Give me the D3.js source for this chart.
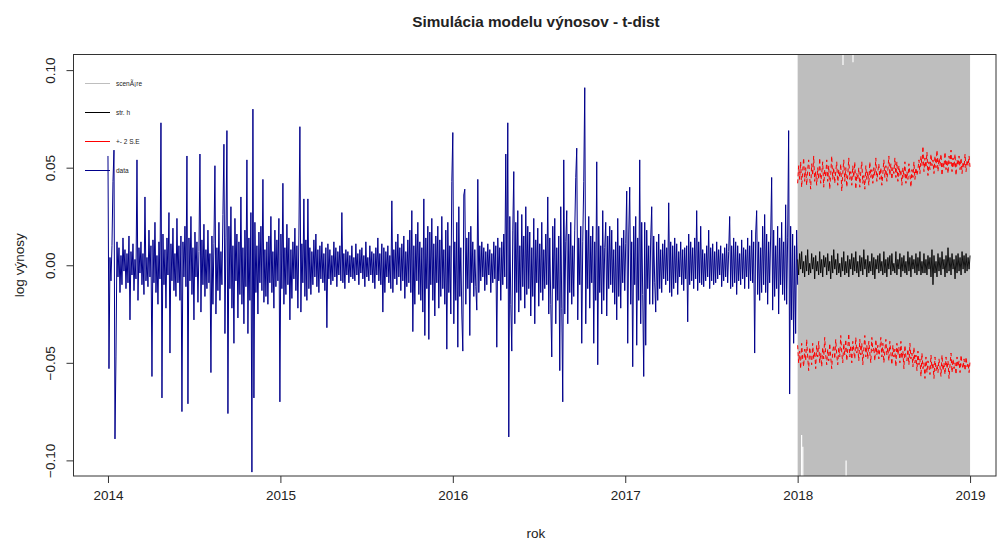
<!DOCTYPE html>
<html lang="sk">

<head>
  <meta charset="UTF-8">
  <title>Simulácia modelu výnosov - t-dist</title>
  <script src="https://d3js.org/d3.v7.min.js"></script>
  <style>
    body { margin: 0; background: #fff; }
    text { font-family: "Liberation Sans", Arial, sans-serif; fill: #222; }
  </style>
</head>

<body>
  <div id="container"></div>

  <script>
    // log vynosy 2014-2017, v tisicinach
    var dataValues = [
      56, -53, 4, -8, 10, 43, 59, -89, -47, 12, -6, 9, -14, 5, -10, 14, -3, 8, -12, 6,
      -9, 15, -28, 7, -5, 11, -13, 3, -7, 54, -18, 9, -4, 12, -10, 6, -15, 35, -8, 4,
      -11, 18, -6, 10, -57, 13, -9, 22, -14, 5, -20, 12, -7, 73, -68, 16, -10, 8, -22, 14,
      -5, 27, -45, 11, -8, 19, -13, 6, -16, 24, -9, 10, -18, 15, -75, 12, -6, 20, -11, 56,
      -71, 14, -8, 25, -15, 9, -28, 17, -6, 12, -19, 7, 57, -24, 13, -10, 21, -16, 8, -12,
      18, -9, 6, -55, 15, -20, 11, 51, -25, 9, -13, 22, -18, 7, -10, 26, 62, -35, 14, 69,
      -76, 20, -12, 30, -22, 10, -40, 24, -8, 16, -27, 12, -15, 35, -20, 9, -30, 18, -11, 54,
      -35, 14, -18, 27, -106, 80, -68, 22, -14, 10, -25, 17, -9, 20, -13, 44, -19, 8, -16, 12,
      -20, 15, -9, 25, -14, 7, -22, 18, -11, 13, -8, 24, -70, 16, -12, 42, -20, 9, -15, 21,
      -10, 14, -28, 8, -17, 12, -7, 19, -13, 10, -22, 15, 71, -24, 11, -9, 34, -16, 13, -18,
      34, -12, 9, -15, 7, -10, 13, -6, 16, -11, 8, -14, 10, -7, 12, -9, 6, -13, 9, -32,
      11, -7, 8, -10, 5, -8, 12, -6, 9, -11, 7, -5, 10, -8, 27, -9, 6, -12, 8, -5,
      7, -9, 5, -6, 10, -7, 4, -8, 11, -5, 6, -10, 8, -4, 9, -7, 5, -11, 12, -6,
      4, -8, 10, -5, 7, -9, 6, -12, 9, -5, 14, -8, 6, -10, 11, -24, 9, -14, 7, -6,
      10, -9, 5, -12, 33, -14, 8, -7, 12, -10, 16, -6, 9, -13, 11, -8, 15, -17, 7, -11,
      13, -9, 18, -14, 28, -34, 10, -20, 16, -8, 22, -15, 12, -18, 9, -24, 34, -36, 14, -12,
      20, -38, 17, -10, 24, -18, 11, -26, 15, -9, 20, -22, 13, -16, 25, -12, 8, -20, 18, -43,
      22, -14, 10, -25, 43, 68, -30, 12, -18, 22, -42, 30, -16, 9, -25, -44, 36, 39, -20, 14,
      -12, 17, -36, 20, -9, 12, -16, 8, -11, -23, 44, -14, 10, -8, 12, -6, 9, -13, 7, -10,
      11, -5, 8, -14, 6, -9, 12, -7, 10, -42, 14, -8, 9, -18, 12, -10, 16, -6, 57, -12,
      73, -88, 25, -20, -44, 18, 48, -30, 22, -14, 28, -24, 10, -18, 26, -11, 15, -22, 30, -15,
      20, -12, 17, -26, 9, -16, 24, -30, 13, -9, 19, -21, 11, -14, 22, -18, 8, -12, 16, -10,
      35, -25, 14, -20, -47, 20, -12, 24, -30, 9, -18, 15, -54, 30, -22, -70, 54, -25, 12, 28,
      -30, 16, -14, 22, -20, 10, -16, 18, 45, 60, -28, 14, -10, 20, -40, 12, 43, 91, -30, 18,
      -12, 25, -22, 15, -9, 20, -40, 12, -18, 53, -51, 20, -14, 10, -25, 28, -18, 9, 22, -26,
      15, -12, 20, -10, 18, -14, 8, -20, 12, -28, 24, -16, 10, -22, 14, -9, 18, -13, 11, 38,
      -40, 16, 40, -20, 12, -52, 20, -10, 25, -41, 14, -18, 54, -30, 22, -15, -57, 22, -41, 18,
      -12, 10, -20, 14, 30, -20, 15, -9, -24, 12, -18, 16, -12, 8, -14, 11, -7, 13, -10, 9,
      -8, 32, -14, 12, -16, 10, -12, 14, -9, 11, -15, 7, -6, 12, -10, 8, -13, 9, -7, 10,
      -29, 16, -10, 12, -8, 9, -12, 14, -7, 28, -13, 12, -9, 20, -10, 8, -11, 6, -8, 10,
      -6, 18, -12, 9, -8, 11, -10, 7, -9, 12, -7, 8, -5, 10, -11, 6, -8, 9, -6, 11,
      -9, 7, 25, -12, 10, -11, 14, -9, 12, -15, 10, -8, 6, -10, 13, -7, 9, -12, 8, -6,
      14, -12, 10, -8, 18, -9, 12, -45, 16, 28, -15, 12, -18, 9, -14, 20, -10, 26, -14, 16,
      -20, 12, -9, 15, 45, -23, 18, -16, 10, -12, 20, -25, 14, -10, 22, -15, 12, -18, 31, -20,
      14, 69, -66, 20, -28, 16, -40, 10, -35, 18, -10
    ];

    // simulacia 2018 (v tisicinach): stredna hodnota a +- 2 S.E.
    var meanValues = [
      3, -5, 6, -2, 7, -4, 2, -6, 5, -3, 8, -5, 1, -4, 6, -2, 4, -7, 5, -3,
      2, -5, 7, -4, 3, -6, 5, -1, 4, -5, 6, -3, 2, -7, 5, -4, 8, -2, 3, -5,
      6, -4, 1, -6, 4, -3, 7, -5, 2, -4, 5, -6, 3, -2, 6, -5, 4, -3, 7, -4,
      2, -6, 5, -3, 4, -5, 8, -2, 3, -6, 5, -4, 2, -3, 6, -5, 4, -7, 3, -2,
      5, -4, 6, -3, 2, -5, 7, -4, 3, -6, 4, -2, 5, -5, 6, -3, 1, -4, 7, -5,
      3, -2, 6, -6, 4, -3, 5, -4, 2, -5, 7, -3, 4, -6, 5, -2, 3, -4, 6, -5,
      4, -3, 7, -5, 2, -4, 6, -4, 3, -5, 5, -2, 4, -6, 8, -10, 5, -4, 2, -6,
      6, -3, 4, -5, 7, -2, 3, -6, 5, -4, 9, -3, 4, -5, 6, -2, 3, -7, 5, -4,
      6, -3, 4, -5, 7, -2, 5, -4, 6, -3, 4, -2, 5
    ];
    var upperValues = [
      42, 51, 44, 53, 40, 48, 55, 43, 50, 41, 49, 54, 45, 39, 52, 46, 56, 43, 48, 41,
      50, 44, 55, 42, 47, 53, 40, 49, 45, 54, 43, 51, 39, 47, 56, 44, 50, 42, 48, 53,
      41, 49, 45, 52, 38, 47, 54, 43, 50, 40, 46, 55, 44, 48, 41, 51, 45, 53, 39, 47,
      44, 50, 40, 48, 53, 42, 46, 39, 51, 44, 48, 41, 53, 45, 49, 42, 50, 46, 55, 43,
      48, 52, 44, 50, 41, 47, 54, 45, 51, 43, 49, 56, 46, 52, 44, 50, 47, 55, 45, 53,
      43, 51, 46, 49, 41, 50, 45, 53, 42, 48, 44, 52, 47, 40, 49, 45, 53, 44, 50, 46,
      49, 54, 47, 56, 51, 61, 48, 55, 50, 58, 46, 53, 49, 57, 51, 54, 47, 56, 50, 59,
      48, 55, 51, 57, 46, 53, 50, 58, 49, 54, 47, 56, 52, 59, 48, 55, 50, 57, 46, 54,
      51, 56, 49, 55, 47, 53, 50, 57, 48, 54, 51, 56, 50
    ];
    var lowerValues = [
      -41, -50, -44, -53, -40, -48, -52, -43, -49, -38, -47, -54, -42, -46, -51, -40, -48, -44, -53, -41,
      -47, -39, -50, -45, -52, -42, -48, -37, -46, -51, -43, -49, -40, -47, -53, -44, -41, -48, -38, -46,
      -51, -42, -47, -36, -45, -50, -40, -46, -38, -49, -43, -35, -47, -41, -50, -39, -44, -48, -37, -45,
      -42, -49, -38, -46, -40, -51, -43, -36, -47, -41, -48, -39, -45, -50, -37, -44, -42, -49, -38, -46,
      -41, -48, -43, -37, -47, -40, -50, -44, -38, -46, -42, -49, -39, -45, -51, -41, -47, -43, -52, -40,
      -46, -42, -50, -39, -48, -44, -53, -41, -47, -49, -43, -51, -40, -48, -45, -52, -42, -50, -46, -54,
      -44, -51, -48, -57, -45, -53, -50, -58, -47, -55, -49, -52, -56, -46, -53, -50, -58, -47, -54, -51,
      -55, -48, -52, -57, -46, -54, -50, -56, -47, -53, -49, -58, -51, -45, -55, -48, -53, -50, -56, -47,
      -52, -49, -55, -46, -51, -53, -48, -54, -47, -52, -50, -55, -49
    ];

    // miesta, kde scenare nepokryli cely rozsah (rok, od, do)
    var scenarioGaps = [
      [2018.263, 0.1026, 0.108],
      [2018.321, 0.104, 0.108],
      [2018.023, -0.108, -0.087],
      [2018.030, -0.108, -0.093],
      [2018.281, -0.108, -0.100]
    ];

    var dataPeriod = [2014, 2018],
      simPeriod = [2018, 2019];
    var xTicks = [2014, 2015, 2016, 2017, 2018, 2019];
    var yTicks = [-0.10, -0.05, 0.00, 0.05, 0.10];
    var legendLabels = ["scenÃ¡re", "str. h", "+- 2 S.E", "data"];
    var legendColors = ["#bebebe", "#000000", "#ff0000", "#00008b"];

    var width = 1000,
      height = 543,
      margin = { "left": 73.5, "top": 54.5, "right": 2, "bottom": 67 };

    var svg = d3.select("#container")
      .append("svg")
      .attr("width", width)
      .attr("height", height)

    var x = d3.scaleLinear()
      .domain([2013.8, 2019.162])
      .range([margin.left, width - margin.right])

    var y = d3.scaleLinear()
      .domain([-0.108, 0.108])
      .range([height - margin.bottom, margin.top])

    function toSeries(values, period) {
      var step = (period[1] - period[0]) / (values.length - 1);
      return values.map(function (v, i) {
        return { t: period[0] + i * step, v: v / 1000 };
      })
    }

    var line = d3.line()
      .x(function (d) { return x(d.t); })
      .y(function (d) { return y(d.v); })

    var plot = svg.append("g")

    // scenare - siva plocha
    plot.append("rect")
      .attr("x", x(simPeriod[0]))
      .attr("y", y.range()[1])
      .attr("width", x(simPeriod[1]) - x(simPeriod[0]))
      .attr("height", y.range()[0] - y.range()[1])
      .style("fill", "#bebebe")

    plot.selectAll(".gap")
      .data(scenarioGaps)
      .enter()
      .append("line")
      .attr("class", "gap")
      .attr("x1", function (d) { return x(d[0]); })
      .attr("x2", function (d) { return x(d[0]); })
      .attr("y1", function (d) { return y(d[1]); })
      .attr("y2", function (d) { return y(d[2]); })
      .attr("stroke", "#fff")
      .attr("stroke-width", 1.2)

    plot.append("path")
      .attr("d", line(toSeries(dataValues, dataPeriod)))
      .attr("fill", "none")
      .attr("stroke", "#00008b")
      .attr("stroke-width", 1)

    plot.append("path")
      .attr("d", line(toSeries(meanValues, simPeriod)))
      .attr("fill", "none")
      .attr("stroke", "#000")
      .attr("stroke-width", 0.9)

    ;[upperValues, lowerValues].forEach(function (vals) {
      plot.append("path")
        .attr("d", line(toSeries(vals, simPeriod)))
        .attr("fill", "none")
        .attr("stroke", "#ff0000")
        .attr("stroke-width", 1)
        .attr("stroke-dasharray", "4,3")
    })

    // ramik
    svg.append("rect")
      .attr("x", x.range()[0])
      .attr("y", y.range()[1])
      .attr("width", x.range()[1] - x.range()[0] - 2)
      .attr("height", y.range()[0] - y.range()[1])
      .style("fill", "none")
      .style("stroke", "#333")

    // osi
    var xAxis = svg.append("g")
      .attr("transform", "translate(0," + y.range()[0] + ")")
      .call(d3.axisBottom(x).tickValues(xTicks).tickFormat(d3.format("d")).tickSize(7).tickPadding(7))
    xAxis.select(".domain").remove()
    xAxis.selectAll("line").attr("stroke", "#333")
    xAxis.selectAll("text").attr("font-size", 13.5).style("fill", "#222")

    var yAxis = svg.append("g")
      .attr("transform", "translate(" + x.range()[0] + ",0)")
      .call(d3.axisLeft(y).tickValues(yTicks).tickFormat(d3.format(".2f")).tickSize(7))
    yAxis.select(".domain").remove()
    yAxis.selectAll("line").attr("stroke", "#333")
    yAxis.selectAll("text")
      .attr("font-size", 13.5)
      .style("fill", "#222")
      .attr("text-anchor", "middle")
      .attr("x", null)
      .attr("dy", null)
      .attr("transform", "translate(-18.5,0) rotate(-90)")

    svg.append("text")
      .attr("x", 536)
      .attr("y", 27)
      .attr("text-anchor", "middle")
      .attr("font-size", 15.3)
      .attr("font-weight", "bold")
      .text("Simulácia modelu výnosov - t-dist")

    svg.append("text")
      .attr("x", 536)
      .attr("y", 538)
      .attr("text-anchor", "middle")
      .attr("font-size", 13.5)
      .text("rok")

    svg.append("text")
      .attr("transform", "translate(24," + y(0) + ") rotate(-90)")
      .attr("text-anchor", "middle")
      .attr("font-size", 13.5)
      .text("log výnosy")

    // legenda
    var legend = svg.append("g")
      .selectAll("g")
      .data(legendLabels)
      .enter()
      .append("g")
      .attr("transform", function (d, i) { return "translate(85," + (83.5 + i * 29) + ")"; })

    legend.append("line")
      .attr("x1", 0)
      .attr("x2", 25)
      .attr("stroke", function (d, i) { return legendColors[i]; })
      .attr("stroke-width", 1)

    legend.append("text")
      .attr("x", 31)
      .attr("dy", "0.35em")
      .attr("font-size", 6.5)
      .text(function (d) { return d; })
  </script>
</body>

</html>
